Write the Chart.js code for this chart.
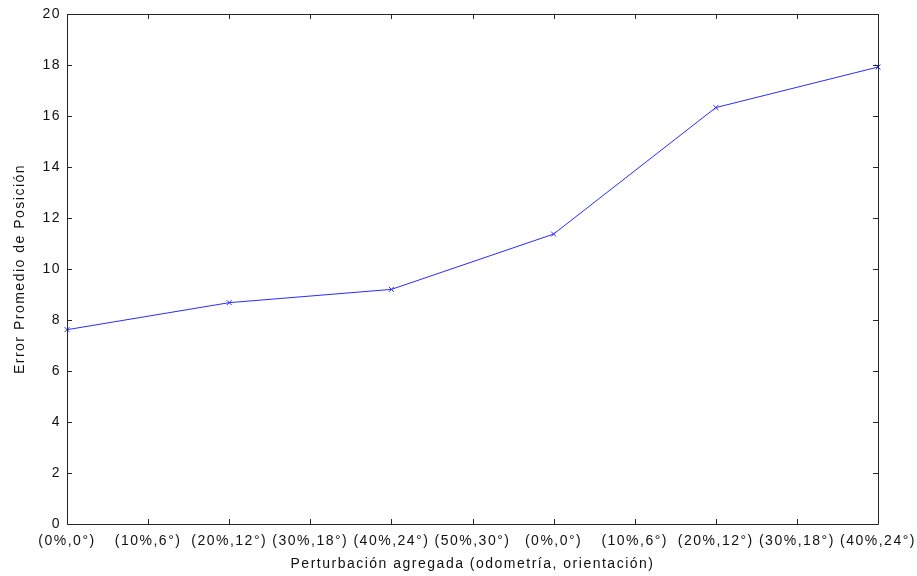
<!DOCTYPE html>
<html>
<head>
<meta charset="utf-8">
<script src="https://cdn.jsdelivr.net/npm/chart.js@4"></script>
<style>
  html, body { margin: 0; padding: 0; background: #fff; }
  #wrap { width: 917px; height: 576px; }
</style>
</head>
<body>
<div id="wrap"><canvas id="c" width="917" height="576"></canvas></div>
<script>
// Perturbation levels (odometry %, orientation degrees)
const categories = [
  '(0%,0°)', '(10%,6°)', '(20%,12°)', '(30%,18°)', '(40%,24°)', '(50%,30°)',
  '(0%,0°)', '(10%,6°)', '(20%,12°)', '(30%,18°)', '(40%,24°)'
];
// Mean position error; only every other level was measured
const errorValues = [7.62, null, 8.68, null, 9.2, null, 11.37, null, 16.33, null, 17.92];
const yTicks = [0, 2, 4, 6, 8, 10, 12, 14, 16, 18, 20];

const FONT = 'Liberation Sans, Arial, sans-serif';
const AXIS = '#262626';
const SPACING = '1.5px';

// Slightly spaced-out lettering for all text
const spacedText = {
  id: 'spacedText',
  beforeLayout(chart) { chart.ctx.letterSpacing = SPACING; },
  beforeDraw(chart) { chart.ctx.letterSpacing = SPACING; }
};

// Boxed axes with inward tick marks on all four sides
const boxTicks = {
  id: 'boxTicks',
  afterDraw(chart) {
    const { ctx, chartArea: a, scales } = chart;
    const len = 5;
    ctx.save();
    ctx.strokeStyle = AXIS;
    ctx.lineWidth = 1;
    ctx.beginPath();
    ctx.rect(Math.round(a.left) + 0.5, Math.round(a.top) + 0.5,
             Math.round(a.right - a.left), Math.round(a.bottom - a.top));
    const xs = scales.x;
    xs.ticks.forEach((t, i) => {
      const px = Math.round(xs.getPixelForTick(i)) + 0.5;
      ctx.moveTo(px, a.bottom); ctx.lineTo(px, a.bottom - len);
      ctx.moveTo(px, a.top); ctx.lineTo(px, a.top + len);
    });
    const ys = scales.y;
    ys.ticks.forEach((t, i) => {
      const py = Math.round(ys.getPixelForTick(i)) + 0.5;
      ctx.moveTo(a.left, py); ctx.lineTo(a.left + len, py);
      ctx.moveTo(a.right, py); ctx.lineTo(a.right - len, py);
    });
    ctx.stroke();
    ctx.restore();
  }
};

new Chart(document.getElementById('c'), {
  type: 'line',
  data: {
    labels: categories,
    datasets: [{
      data: errorValues,
      borderColor: '#2a2aff',
      backgroundColor: '#2a2aff',
      borderWidth: 1,
      pointStyle: 'crossRot',
      pointRadius: 3.5,
      pointBorderWidth: 1,
      spanGaps: true,
      tension: 0
    }]
  },
  options: {
    responsive: false,
    animation: false,
    layout: { padding: { left: 0, right: 39, top: 14, bottom: 0 } },
    plugins: { legend: { display: false }, tooltip: { enabled: false } },
    scales: {
      x: {
        type: 'category',
        offset: false,
        grid: { display: false, drawTicks: false },
        border: { display: false },
        ticks: { color: '#111', font: { family: FONT, size: 14 }, padding: 9, maxRotation: 0, autoSkip: false },
        title: { display: true, text: 'Perturbación agregada (odometría, orientación)', color: '#111',
                 font: { family: FONT, size: 14 }, padding: { top: 0, bottom: 3 } },
        afterFit(s) { s.height = 52; s.paddingLeft = 0; s.paddingRight = 0; }
      },
      y: {
        min: 0, max: 20,
        afterBuildTicks(s) { s.ticks = yTicks.map(v => ({ value: v })); },
        grid: { display: false, drawTicks: false },
        border: { display: false },
        ticks: { color: '#111', font: { family: FONT, size: 14 }, padding: 6 },
        title: { display: true, text: 'Error Promedio de Posición', color: '#111',
                 font: { family: FONT, size: 14 }, padding: { top: 12, bottom: 0 } },
        afterFit(s) { s.width = 67; s.paddingTop = 0; s.paddingBottom = 0; }
      }
    }
  },
  plugins: [spacedText, boxTicks]
});
</script>
</body>
</html>
